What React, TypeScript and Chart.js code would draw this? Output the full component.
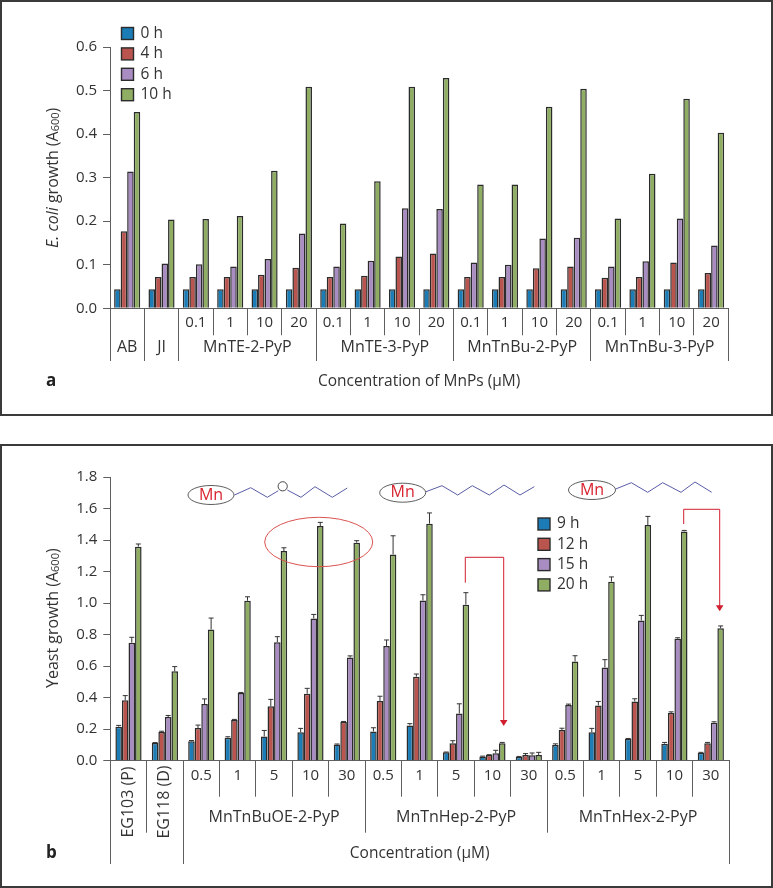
import React, { useEffect, useRef } from "react";
import { Chart, registerables } from "chart.js";

Chart.register(...registerables);

const FONT = '"Open Sans", sans-serif';
const TEXT = "#333333";
const AXIS = "#5f5f5f";
const EDGE = "#2b2b2b";
const COLORS = ["#1b7cb6", "#b9544f", "#a98cc1", "#8fae63"];

// Panel a
const catsA = ["", "", "0.1", "1", "10", "20", "0.1", "1", "10", "20", "0.1", "1", "10", "20", "0.1", "1", "10", "20"];
const groupsA: [string, number][] = [["AB", 1], ["JI", 1], ["MnTE-2-PyP", 4], ["MnTE-3-PyP", 4], ["MnTnBu-2-PyP", 4], ["MnTnBu-3-PyP", 4]];
const seriesNamesA = ["0 h", "4 h", "6 h", "10 h"];
const h0 = [0.044, 0.044, 0.044, 0.044, 0.044, 0.044, 0.044, 0.044, 0.044, 0.044, 0.044, 0.044, 0.044, 0.044, 0.044, 0.044, 0.044, 0.044];
const h4 = [0.177, 0.072, 0.072, 0.072, 0.077, 0.093, 0.072, 0.075, 0.119, 0.126, 0.072, 0.072, 0.092, 0.096, 0.07, 0.072, 0.105, 0.081];
const h6 = [0.314, 0.103, 0.101, 0.096, 0.113, 0.172, 0.096, 0.109, 0.23, 0.228, 0.105, 0.1, 0.16, 0.162, 0.096, 0.108, 0.206, 0.144];
const h10 = [0.451, 0.204, 0.205, 0.212, 0.316, 0.509, 0.195, 0.292, 0.509, 0.529, 0.284, 0.284, 0.463, 0.504, 0.206, 0.309, 0.481, 0.403];

// Panel b
const catsB = ["", "", "0.5", "1", "5", "10", "30", "0.5", "1", "5", "10", "30", "0.5", "1", "5", "10", "30"];
const groupsB: [string, number][] = [["EG103 (P)", 1], ["EG118 (D)", 1], ["MnTnBuOE-2-PyP", 5], ["MnTnHep-2-PyP", 5], ["MnTnHex-2-PyP", 5]];
const seriesNamesB = ["9 h", "12 h", "15 h", "20 h"];
const h9 = [0.216, 0.112, 0.123, 0.146, 0.154, 0.18, 0.102, 0.186, 0.224, 0.053, 0.027, 0.025, 0.099, 0.18, 0.14, 0.108, 0.051];
const h12 = [0.383, 0.182, 0.207, 0.258, 0.345, 0.425, 0.247, 0.379, 0.533, 0.11, 0.036, 0.036, 0.195, 0.351, 0.376, 0.302, 0.11];
const h15 = [0.749, 0.277, 0.36, 0.429, 0.751, 0.903, 0.654, 0.728, 1.017, 0.3, 0.047, 0.034, 0.353, 0.592, 0.89, 0.774, 0.241];
const h20 = [1.358, 0.567, 0.833, 1.015, 1.33, 1.489, 1.383, 1.309, 1.504, 0.99, 0.11, 0.036, 0.63, 1.136, 1.495, 1.455, 0.84];
const e9 = [0.008, 0.003, 0.005, 0.006, 0.038, 0.025, 0.004, 0.023, 0.011, 0.002, 0.002, 0.002, 0.008, 0.025, 0.001, 0.008, 0.002];
const e12 = [0.03, 0.005, 0.019, 0.004, 0.044, 0.034, 0.002, 0.03, 0.017, 0.017, 0.002, 0.009, 0.011, 0.025, 0.017, 0.008, 0.006];
const e15 = [0.034, 0.01, 0.032, 0.004, 0.036, 0.025, 0.011, 0.038, 0.036, 0.061, 0.019, 0.015, 0.006, 0.049, 0.032, 0.006, 0.006];
const e20 = [0.017, 0.03, 0.072, 0.025, 0.021, 0.023, 0.013, 0.118, 0.068, 0.076, 0.006, 0.017, 0.036, 0.03, 0.055, 0.006, 0.015];
const errorsB = [e9, e12, e15, e20];

type PanelCfg = {
  letter: string;
  letterY: number;
  groups: [string, number][];
  rotateFirst: boolean;
  groupLabelY: number;
  tallBottom: number;
  extraBottom?: Record<number, number>;
  yTitle: { italic: string; plain: string };
  yTitleBottom: number;
  legend: { x: number; y: number; step: number };
  errors?: number[][];
  decorate?: (ctx: CanvasRenderingContext2D) => void;
};

const decorateB = (ctx: CanvasRenderingContext2D) => {
  const top = 444;
  const chainColor = "#5a5ca6";
  const red = "#d01f2f";
  const mols: { c: [number, number]; rx: number; ry: number; chain: [number, number][] }[] = [
    { c: [211, 495], rx: 23, ry: 9.5, chain: [[234.5, 495], [250.7, 487.7], [267.3, 497.3], [278.3, 490.7]] },
    { c: [402.7, 492.7], rx: 23, ry: 9.5, chain: [[426, 491.7], [442, 485.7], [457.7, 495], [472.3, 485.7], [489.3, 495], [504, 485], [520, 495], [534.3, 486.7]] },
    { c: [592, 490], rx: 23.5, ry: 9.5, chain: [[615.7, 489], [631.3, 482.7], [647.7, 492.3], [662.7, 482.7], [681, 492.3], [695, 482], [711.7, 492.3]] },
  ];
  ctx.save();
  ctx.translate(0, -top);
  mols.forEach((m) => {
    ctx.strokeStyle = "#333";
    ctx.lineWidth = 0.8;
    ctx.beginPath();
    ctx.ellipse(m.c[0], m.c[1], m.rx, m.ry, 0, 0, Math.PI * 2);
    ctx.stroke();
    ctx.fillStyle = "#d8232f";
    ctx.font = `16px ${FONT}`;
    ctx.textAlign = "center";
    ctx.textBaseline = "middle";
    ctx.fillText("Mn", m.c[0], m.c[1]);
    ctx.strokeStyle = chainColor;
    ctx.lineWidth = 1;
    ctx.beginPath();
    m.chain.forEach((p, i) => (i ? ctx.lineTo(p[0], p[1]) : ctx.moveTo(p[0], p[1])));
    ctx.stroke();
  });
  // ether oxygen and remainder of the first chain
  ctx.strokeStyle = chainColor;
  ctx.beginPath();
  [[287.3, 490], [301, 497.3], [315, 486.7], [332.3, 497.3], [347.3, 488]].forEach((p, i) => (i ? ctx.lineTo(p[0], p[1]) : ctx.moveTo(p[0], p[1])));
  ctx.stroke();
  ctx.strokeStyle = "#333";
  ctx.lineWidth = 0.9;
  ctx.beginPath();
  ctx.arc(282.7, 486.3, 4.6, 0, Math.PI * 2);
  ctx.stroke();
  // highlight ellipse
  ctx.strokeStyle = "#d9534f";
  ctx.lineWidth = 1;
  ctx.beginPath();
  ctx.ellipse(318.7, 542, 54, 24.7, 0, 0, Math.PI * 2);
  ctx.stroke();
  // arrows
  ([[465.3, 582.7, 557.3, 503.7, 726], [683.7, 524, 509.3, 719.7, 611.3]] as number[][]).forEach(([x0, y0, yt, x1, tip]) => {
    ctx.strokeStyle = red;
    ctx.lineWidth = 1;
    ctx.beginPath();
    ctx.moveTo(x0, y0);
    ctx.lineTo(x0, yt);
    ctx.lineTo(x1, yt);
    ctx.lineTo(x1, tip - 4);
    ctx.stroke();
    ctx.fillStyle = red;
    ctx.beginPath();
    ctx.moveTo(x1 - 3.8, tip - 6);
    ctx.lineTo(x1 + 3.8, tip - 6);
    ctx.lineTo(x1, tip);
    ctx.closePath();
    ctx.fill();
  });
  ctx.restore();
};

const panelPlugin = (cfg: PanelCfg) => ({
  id: "panel" + cfg.letter,
  afterDatasetsDraw(chart: any) {
    const ctx: CanvasRenderingContext2D = chart.ctx;
    const x = chart.scales.x;
    const y = chart.scales.y;
    const step = x.getPixelForValue(1) - x.getPixelForValue(0);
    const base = chart.chartArea.bottom;

    // error bars
    if (cfg.errors) {
      ctx.save();
      ctx.strokeStyle = "#333";
      ctx.lineWidth = 1;
      cfg.errors.forEach((errs, ds) => {
        const meta = chart.getDatasetMeta(ds);
        errs.forEach((e, i) => {
          const v = chart.data.datasets[ds].data[i];
          const px = meta.data[i].x;
          const y0 = y.getPixelForValue(v);
          const y1 = y.getPixelForValue(v + e);
          ctx.beginPath();
          ctx.moveTo(px, y0);
          ctx.lineTo(px, y1);
          ctx.moveTo(px - 2.5, y1);
          ctx.lineTo(px + 2.5, y1);
          ctx.stroke();
        });
      });
      ctx.restore();
    }

    // group separators and labels
    ctx.save();
    ctx.strokeStyle = AXIS;
    ctx.lineWidth = 1;
    ctx.fillStyle = TEXT;
    ctx.font = `16px ${FONT}`;
    ctx.textBaseline = "middle";
    ctx.textAlign = "center";
    let start = 0;
    const edge = (i: number) => Math.round(x.getPixelForValue(0) + (i - 0.5) * step - 0.5) + 0.5;
    const sep = (i: number, idx: number) => {
      const b = cfg.extraBottom?.[idx] ?? cfg.tallBottom;
      ctx.beginPath();
      ctx.moveTo(edge(i), base);
      ctx.lineTo(edge(i), b);
      ctx.stroke();
    };
    sep(0, 0);
    cfg.groups.forEach(([label, span], gi) => {
      const end = start + span;
      sep(end, gi + 1);
      const cx = x.getPixelForValue(0) + ((start + end) / 2 - 0.5) * step;
      if (cfg.rotateFirst && span === 1) {
        ctx.save();
        ctx.translate(cx, cfg.groupLabelY - 15);
        ctx.rotate(-Math.PI / 2);
        ctx.fillText(label, 0, 0);
        ctx.restore();
      } else {
        ctx.fillText(label, cx, cfg.groupLabelY);
      }
      start = end;
    });
    ctx.restore();

    // y title with italic part and subscript
    ctx.save();
    ctx.translate(53, cfg.yTitleBottom);
    ctx.rotate(-Math.PI / 2);
    ctx.fillStyle = TEXT;
    ctx.textBaseline = "middle";
    ctx.textAlign = "left";
    const parts: [string, string, number][] = [
      ...(cfg.yTitle.italic ? [[cfg.yTitle.italic, `italic 16px ${FONT}`, 0] as [string, string, number]] : []),
      [cfg.yTitle.plain, `16px ${FONT}`, 0],
      ["600", `11px ${FONT}`, 2.5],
      [")", `16px ${FONT}`, 0],
    ];
    let tx = 0;
    parts.forEach(([s, font, dy]) => {
      ctx.font = font;
      ctx.fillText(s, tx, dy);
      tx += ctx.measureText(s).width;
    });
    ctx.restore();

    // legend from the datasets
    ctx.save();
    ctx.font = `15.5px ${FONT}`;
    ctx.textBaseline = "middle";
    ctx.textAlign = "left";
    chart.data.datasets.forEach((d: any, i: number) => {
      const yy = cfg.legend.y + i * cfg.legend.step;
      ctx.fillStyle = d.backgroundColor;
      ctx.fillRect(cfg.legend.x, yy, 12, 12);
      ctx.strokeStyle = EDGE;
      ctx.lineWidth = 1.4;
      ctx.strokeRect(cfg.legend.x, yy, 12, 12);
      ctx.fillStyle = TEXT;
      ctx.fillText(d.label, cfg.legend.x + 19, yy + 6);
    });
    ctx.restore();

    // panel letter
    ctx.save();
    ctx.fillStyle = "#222";
    ctx.font = `bold 17px ${FONT}`;
    ctx.textBaseline = "middle";
    ctx.textAlign = "left";
    ctx.fillText(cfg.letter, 46, cfg.letterY);
    ctx.restore();

    cfg.decorate?.(ctx);
  },
});

const makeChart = (
  canvas: HTMLCanvasElement,
  labels: string[],
  names: string[],
  values: number[][],
  o: { top: number; bottom: number; left: number; right: number; h: number; max: number; step: number; catPct: number; tick: number; xTitle: string; pad: number },
  cfg: PanelCfg
) =>
  new Chart(canvas, {
    type: "bar",
    data: {
      labels,
      datasets: values.map((data, i) => ({
        label: names[i],
        data,
        backgroundColor: COLORS[i],
        borderColor: EDGE,
        borderWidth: 1.5,
        barPercentage: 1,
        categoryPercentage: o.catPct,
      })),
    },
    options: {
      responsive: false,
      animation: false,
      layout: { padding: { top: o.top, right: 773 - o.right, bottom: 0, left: 0 } },
      plugins: { legend: { display: false }, tooltip: { enabled: false }, title: { display: false } },
      scales: {
        x: {
          grid: { drawOnChartArea: false, tickLength: o.tick, color: AXIS, lineWidth: 1 },
          border: { color: AXIS, width: 1 },
          ticks: { color: TEXT, font: { family: FONT, size: 15 }, padding: o.pad, autoSkip: false, maxRotation: 0, minRotation: 0 },
          title: { display: true, text: o.xTitle, color: TEXT, font: { family: FONT, size: 15.5 }, padding: { top: 0, bottom: 25 } },
          afterFit: (s: any) => { s.height = o.h - o.bottom; },
        },
        y: {
          min: 0,
          max: o.max,
          grid: { drawOnChartArea: false, tickLength: 7, color: AXIS, lineWidth: 1 },
          border: { color: AXIS, width: 1 },
          ticks: { stepSize: o.step, color: TEXT, font: { family: FONT, size: 15 }, padding: 6, callback: (v: any) => Number(v).toFixed(1) },
          afterFit: (s: any) => { s.width = o.left; },
        },
      },
    } as any,
    plugins: [panelPlugin(cfg) as any],
  });

const panelStyle = (top: number, height: number): React.CSSProperties => ({
  position: "absolute",
  left: 0,
  top,
  width: 773,
  height,
  boxSizing: "border-box",
  border: "2px solid #3a3a3a",
  background: "#fff",
});

export default function App() {
  const a = useRef<HTMLCanvasElement>(null);
  const b = useRef<HTMLCanvasElement>(null);
  useEffect(() => {
    const ca = makeChart(
      a.current!, catsA, seriesNamesA, [h0, h4, h6, h10],
      { top: 47, bottom: 308.3, left: 110, right: 728.3, h: 416, max: 0.6, step: 0.1, catPct: 0.76, tick: 27, xTitle: "Concentration of MnPs (µM)", pad: -22 },
      {
        letter: "a", letterY: 381, groups: groupsA, rotateFirst: false, groupLabelY: 347, tallBottom: 361,
        yTitle: { italic: "E. coli", plain: " growth (A" }, yTitleBottom: 248,
        legend: { x: 121.5, y: 27.5, step: 20.4 },
      }
    );
    const cb = makeChart(
      b.current!, catsB, seriesNamesB, [h9, h12, h15, h20],
      { top: 33, bottom: 316.7, left: 110.3, right: 729, h: 444, max: 1.8, step: 0.2, catPct: 0.72, tick: 36, xTitle: "Concentration (µM)", pad: -30 },
      {
        letter: "b", letterY: 853 - 444, groups: groupsB, rotateFirst: true, groupLabelY: 817 - 444, tallBottom: 832.7 - 444,
        extraBottom: { 0: 864 - 444, 2: 864 - 444, 5: 864 - 444 },
        yTitle: { italic: "", plain: "Yeast growth (A" }, yTitleBottom: 688 - 444,
        legend: { x: 538, y: 518 - 444, step: 20.3 },
        errors: errorsB,
        decorate: decorateB,
      }
    );
    return () => { ca.destroy(); cb.destroy(); };
  }, []);
  return (
    <div style={{ position: "absolute", left: 0, top: 0, width: 773, height: 888, background: "#fff", overflow: "hidden" }}>
      <div style={panelStyle(0, 416)} />
      <div style={panelStyle(444, 444)} />
      <canvas ref={a} width={773} height={416} style={{ position: "absolute", left: 0, top: 0, display: "block" }} />
      <canvas ref={b} width={773} height={444} style={{ position: "absolute", left: 0, top: 444, display: "block" }} />
    </div>
  );
}
